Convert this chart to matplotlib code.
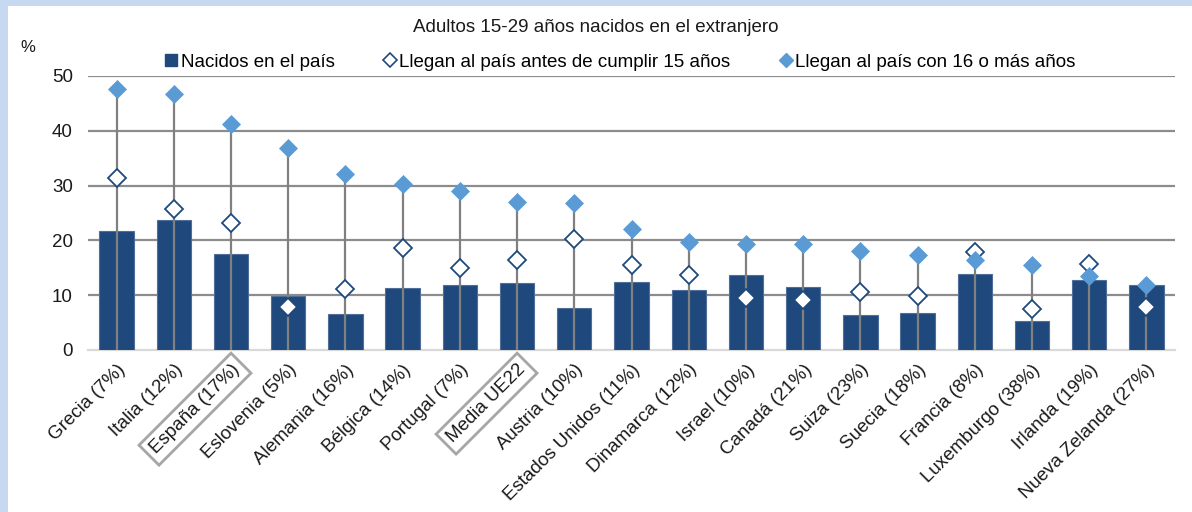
import matplotlib
matplotlib.use("Agg")
import matplotlib.pyplot as plt
from matplotlib.patches import Rectangle
from matplotlib.lines import Line2D
import numpy as np

plt.rcParams['font.family'] = ['Liberation Sans', 'DejaVu Sans']

categories = ["Grecia (7%)", "Italia (12%)", "España (17%)", "Eslovenia (5%)",
              "Alemania (16%)", "Bélgica (14%)", "Portugal (7%)", "Media UE22",
              "Austria (10%)", "Estados Unidos (11%)", "Dinamarca (12%)",
              "Israel (10%)", "Canadá (21%)", "Suiza (23%)", "Suecia (18%)",
              "Francia (8%)", "Luxemburgo (38%)", "Irlanda (19%)",
              "Nueva Zelanda (27%)"]
nacidos = [21.7, 23.7, 17.6, 9.8, 6.5, 11.3, 11.9, 12.3, 7.6, 12.5, 11.0,
           13.6, 11.5, 6.4, 6.7, 13.9, 5.3, 12.8, 11.8]
antes15 = [31.3, 25.8, 23.1, 7.9, 11.2, 18.7, 15.0, 16.4, 20.2, 15.6, 13.6,
           9.5, 9.2, 10.5, 9.8, 17.8, 7.4, 15.7, 7.8]
mas16 = [47.6, 46.7, 41.3, 36.8, 32.1, 30.3, 29.0, 27.0, 26.9, 22.1, 19.7,
         19.4, 19.4, 18.0, 17.4, 16.5, 15.6, 13.5, 11.8]
highlighted = ["España (17%)", "Media UE22"]
yticks = [0, 10, 20, 30, 40, 50]

W, H = 1192, 512
fig = plt.figure(figsize=(W / 100, H / 100), dpi=100, facecolor='white')
fig.patches.append(Rectangle((0, 0), 8 / W, 1, transform=fig.transFigure,
                             facecolor='#c6d9f1', edgecolor='none', zorder=0))
fig.patches.append(Rectangle((0, 1 - 6 / H), 1, 6 / H, transform=fig.transFigure,
                             facecolor='#c6d9f1', edgecolor='none', zorder=0))

ax = fig.add_axes([88 / W, 1 - 350 / H, (1175 - 88) / W, (350 - 76) / H])
ax.set_facecolor('none')
x = np.arange(len(categories))

ax.bar(x, nacidos, width=0.6, color='#1f497d', edgecolor='#4f6f9a', linewidth=0.8, zorder=3)
ax.vlines(x, 0, mas16, color='#808080', linewidth=1.6, zorder=4)
ax.plot(x, antes15, linestyle='none', marker='D', markersize=9.5, markerfacecolor='white',
        markeredgecolor='#1f497d', markeredgewidth=1.3, zorder=5)
ax.plot(x, mas16, linestyle='none', marker='D', markersize=9.5, markerfacecolor='#5b9bd5',
        markeredgecolor='#5b9bd5', markeredgewidth=0.5, zorder=6)

ax.set_xlim(-0.5, len(categories) - 0.5)
ax.set_ylim(0, 50)
ax.set_yticks(yticks)
for t in yticks[1:]:
    ax.axhline(t, color='#8c8c8c', linewidth=1.6, zorder=1)
for s in ['top', 'right', 'left']:
    ax.spines[s].set_visible(False)
ax.spines['bottom'].set_color('#d9d9d9')
ax.spines['bottom'].set_linewidth(1.6)
ax.tick_params(axis='both', length=0, labelsize=13.5, colors='#1a1a1a')
ax.tick_params(axis='y', pad=11)
ax.set_xticks(x)
ax.set_xticklabels(categories, rotation=45, ha='right', rotation_mode='anchor', fontsize=13.5)
ax.tick_params(axis='x', pad=8)
for lab in ax.get_xticklabels():
    if lab.get_text() in highlighted:
        lab.set_bbox(dict(boxstyle='square,pad=0.3', facecolor='white',
                          edgecolor='#a6a6a6', linewidth=2))

fig.text(28 / W, 1 - 47 / H, '%', fontsize=12, ha='center', va='center', color='#1a1a1a')
fig.text(596 / W, 1 - 28 / H, 'Adultos 15-29 años nacidos en el extranjero', fontsize=13.5,
         ha='center', va='center', color='#1a1a1a')

handles = [
    Line2D([], [], linestyle='none', marker='s', markersize=8, markerfacecolor='#1f497d',
           markeredgecolor='#1f497d'),
    Line2D([], [], linestyle='none', marker='D', markersize=7, markerfacecolor='white',
           markeredgecolor='#1f497d', markeredgewidth=1.2),
    Line2D([], [], linestyle='none', marker='D', markersize=7, markerfacecolor='#5b9bd5',
           markeredgecolor='#5b9bd5'),
]
labels = ['Nacidos en el país', 'Llegan al país antes de cumplir 15 años',
          'Llegan al país con 16 o más años']
fig.legend(handles, labels, loc='center', bbox_to_anchor=(620 / W, 1 - 62 / H), ncol=3,
           frameon=False, fontsize=13.5, handlelength=0.7, handletextpad=0.15,
           columnspacing=2.6, borderpad=0)

fig.savefig('out.png', dpi=100, facecolor=fig.get_facecolor())
